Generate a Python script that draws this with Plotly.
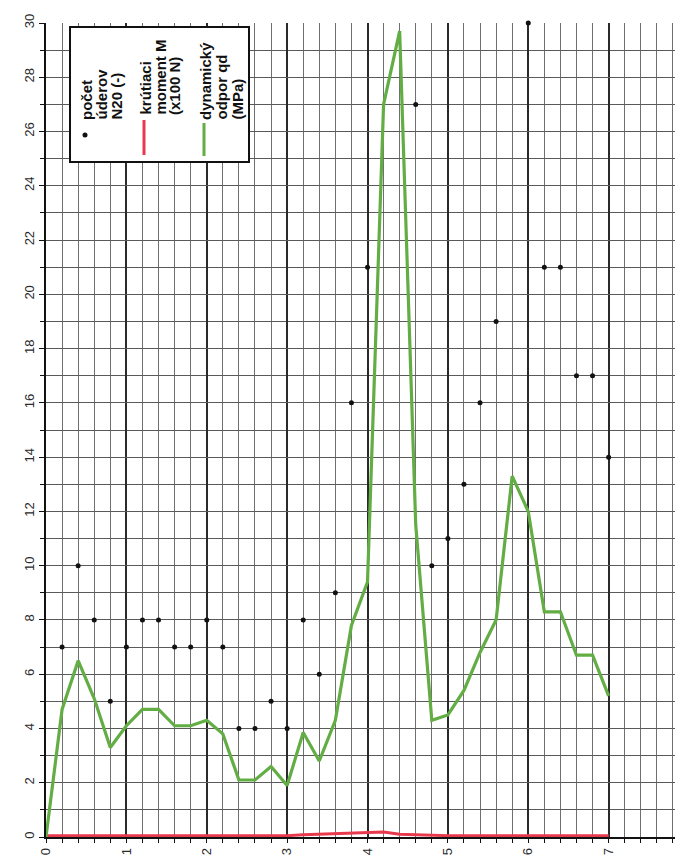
import plotly.graph_objects as go

# ---------------- data ----------------
depth_n20 = [0.2, 0.4, 0.6, 0.8, 1.0, 1.2, 1.4, 1.6, 1.8, 2.0, 2.2, 2.4, 2.6, 2.8, 3.0,
             3.2, 3.4, 3.6, 3.8, 4.0, 4.6, 4.8, 5.0, 5.2, 5.4, 5.6, 6.0, 6.2, 6.4, 6.6,
             6.8, 7.0]
n20 = [7, 10, 8, 5, 7, 8, 8, 7, 7, 8, 7, 4, 4, 5, 4,
       8, 6, 9, 16, 21, 27, 10, 11, 13, 16, 19, 30, 21, 21, 17,
       17, 14]

depth_m = [0.0, 0.2, 0.4, 0.6, 0.8, 1.0, 1.2, 1.4, 1.6, 1.8, 2.0, 2.2, 2.4, 2.6, 2.8,
           3.0, 3.2, 3.4, 3.6, 3.8, 4.0, 4.2, 4.4, 4.6, 4.8, 5.0, 5.2, 5.4, 5.6, 5.8,
           6.0, 6.2, 6.4, 6.6, 6.8, 7.0]
torque_m = [0.05, 0.05, 0.05, 0.05, 0.05, 0.05, 0.05, 0.05, 0.05, 0.05, 0.05, 0.05, 0.05, 0.05, 0.05,
            0.05, 0.08, 0.1, 0.12, 0.15, 0.18, 0.18, 0.1, 0.08, 0.06, 0.05, 0.05, 0.05, 0.05, 0.05,
            0.05, 0.05, 0.05, 0.05, 0.05, 0.05]

depth_qd = [0.0, 0.2, 0.4, 0.6, 0.8, 1.0, 1.2, 1.4, 1.6, 1.8, 2.0, 2.2, 2.4, 2.6, 2.8,
            3.0, 3.2, 3.4, 3.6, 3.8, 4.0, 4.2, 4.4, 4.6, 4.8, 5.0, 5.2, 5.4, 5.6, 5.8,
            6.0, 6.2, 6.4, 6.6, 6.8, 7.0]
qd = [0.0, 4.7, 6.5, 5.1, 3.3, 4.1, 4.7, 4.7, 4.1, 4.1, 4.3, 3.8, 2.1, 2.1, 2.6,
      1.9, 3.85, 2.8, 4.3, 7.8, 9.4, 27.0, 29.7, 11.5, 4.3, 4.5, 5.4, 6.8, 8.0, 13.3,
      12.0, 8.3, 8.3, 6.7, 6.7, 5.2]

x_tick_vals = [0, 1, 2, 3, 4, 5, 6, 7, 8]
y_tick_vals = [0, 2, 4, 6, 8, 10, 12, 14, 16, 18, 20, 22, 24, 26, 28, 30]

legend_n20 = ["počet", "úderov", "N20 (-)"]
legend_m = ["krútiaci", "moment M", "(x100 N)"]
legend_qd = ["dynamický", "odpor qd", "(MPa)"]

# ---------------- layout helpers ----------------
W, H = 683, 867
L, R, T, B = 38, 2, 15, 38


def fx(p):
    return (p - L) / (W - L - R)


def fy(p):
    return (H - B - p) / (H - T - B)


GREEN = "#63ad45"
RED = "#e8394d"
FONT = "Liberation Sans, Arial, sans-serif"

fig = go.Figure()
fig.add_trace(go.Scatter(x=depth_n20, y=n20, mode="markers",
                         marker=dict(color="#111111", size=5), name="N20",
                         cliponaxis=False))
fig.add_trace(go.Scatter(x=depth_m, y=torque_m, mode="lines",
                         line=dict(color=RED, width=3), name="M"))
fig.add_trace(go.Scatter(x=depth_qd, y=qd, mode="lines",
                         line=dict(color=GREEN, width=3.2), name="qd"))

fig.update_layout(
    width=W, height=H,
    margin=dict(l=L, r=R, t=T, b=B),
    paper_bgcolor="white", plot_bgcolor="white",
    showlegend=False,
    font=dict(family=FONT, size=13, color="#2a2a2a"),
)

fig.update_xaxes(
    range=[0, 8], tickvals=x_tick_vals, ticktext=[str(v) for v in x_tick_vals],
    tickangle=-90, ticks="outside", ticklen=4, tickcolor="#111",
    showgrid=True, gridcolor="#2a2a2a", gridwidth=2,
    showline=True, linecolor="#111", linewidth=1.5,
    zeroline=False, fixedrange=True,
    minor=dict(dtick=0.2, showgrid=True, gridcolor="#707070", gridwidth=1,
               ticks="outside", ticklen=4, tickcolor="#111"),
    tickfont=dict(size=13),
)
fig.update_yaxes(
    range=[0, 30], tickvals=y_tick_vals, ticktext=[str(v) for v in y_tick_vals],
    tickangle=-90, ticks="outside", ticklen=5, tickcolor="#111",
    showgrid=True, gridcolor="#5a5a5a", gridwidth=1,
    showline=True, linecolor="#111", linewidth=2,
    zeroline=False, fixedrange=True,
    minor=dict(dtick=1, showgrid=True, gridcolor="#5a5a5a", gridwidth=1,
               ticks="outside", ticklen=4, tickcolor="#111"),
    tickfont=dict(size=13),
)

# ---------------- custom rotated legend ----------------
shapes = [
    dict(type="rect", xref="paper", yref="paper",
         x0=fx(62), x1=fx(241), y0=fy(154), y1=fy(19),
         fillcolor="white", line=dict(color="#111", width=2), layer="above"),
    dict(type="circle", xref="paper", yref="paper",
         x0=fx(74.5), x1=fx(79.5), y0=fy(129.5), y1=fy(124.5),
         fillcolor="#111", line=dict(color="#111", width=0), layer="above"),
    dict(type="line", xref="paper", yref="paper",
         x0=fx(136), x1=fx(136), y0=fy(112), y1=fy(147),
         line=dict(color=RED, width=3), layer="above"),
    dict(type="line", xref="paper", yref="paper",
         x0=fx(196), x1=fx(196), y0=fy(115), y1=fy(148),
         line=dict(color=GREEN, width=3), layer="above"),
]
fig.update_layout(shapes=shapes)

annotations = []
for lines, xs, ybot in [(legend_n20, [78, 93, 108], 113),
                        (legend_m, [137, 152, 167], 108),
                        (legend_qd, [197, 213, 229], 113)]:
    for txt, xc in zip(lines, xs):
        annotations.append(dict(
            text=txt, xref="paper", yref="paper", x=fx(xc), y=fy(ybot),
            xanchor="center", yanchor="bottom", textangle=-90,
            showarrow=False, borderpad=0,
            font=dict(family=FONT, size=15, color="#111", weight="bold"),
        ))
fig.update_layout(annotations=annotations)

fig.write_html("out.html")
